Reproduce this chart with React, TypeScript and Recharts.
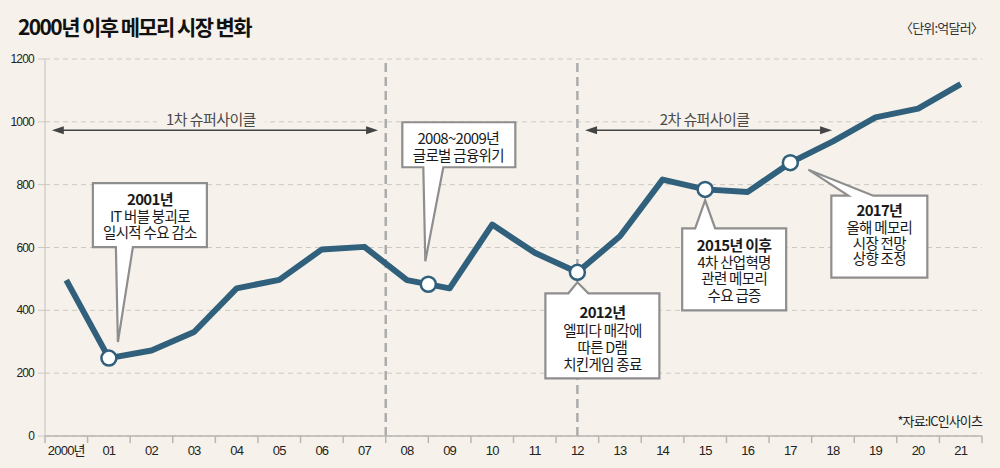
import React from "react";
import {
  CartesianGrid,
  Line,
  LineChart,
  ReferenceDot,
  ReferenceLine,
  XAxis,
  YAxis,
} from "recharts";

const YEAR_LABELS = [
  "2000년", "01", "02", "03", "04", "05", "06", "07", "08", "09", "10",
  "11", "12", "13", "14", "15", "16", "17", "18", "19", "20", "21",
];
// 억달러
const MARKET = [
  496, 248, 272, 331, 470, 497, 594, 602, 496, 470, 673,
  583, 521, 636, 816, 785, 777, 870, 938, 1014, 1042, 1120,
];
const MARKED_YEARS = [1, 12, 15, 17];
const Y_TICKS = [0, 200, 400, 600, 800, 1000, 1200];

const CYCLE_LABELS = ["1차 슈퍼사이클", "2차 슈퍼사이클"];
const CYCLE_SPANS = [
  [-0.34, 7.32],
  [12.18, 17.98],
];
const CYCLE_LEVEL = 973;

const NOTE_2001 = ["2001년", "IT 버블 붕괴로", "일시적 수요 감소"];
const NOTE_2008 = ["2008~2009년", "글로벌 금융위기"];
const NOTE_2012 = ["2012년", "엘피다 매각에", "따른 D램", "치킨게임 종료"];
const NOTE_2015 = ["2015년 이후", "4차 산업혁명", "관련 메모리", "수요 급증"];
const NOTE_2017 = ["2017년", "올해 메모리", "시장 전망", "상향 조정"];

const BG = "#f6f2eb";
const LINE = "#30607b";
const KR = "'Noto Sans CJK KR', 'Noto Sans', sans-serif";
const NUM = "'Liberation Sans', 'Noto Sans CJK KR', sans-serif";

const W = 1000;
const H = 468;
const M = { top: 59, right: 18, bottom: 0, left: 0 };
const Y_W = 45;
const X_H = 32;
const PLOT_W = W - M.left - M.right - Y_W;
const STEP = PLOT_W / YEAR_LABELS.length;

const data = YEAR_LABELS.map((label, i) => ({ i, label, v: MARKET[i] }));

function XTick(props: any) {
  const { x, y, payload, index } = props;
  const last = index === YEAR_LABELS.length - 1;
  return (
    <g>
      <line x1={x - STEP / 2} y1={y} x2={x - STEP / 2} y2={y + 7} stroke="#b8b5b0" strokeWidth={1.5} />
      {last && <line x1={x + STEP / 2} y1={y} x2={x + STEP / 2} y2={y + 7} stroke="#b8b5b0" strokeWidth={1.5} />}
      <text x={x} y={y + 19} textAnchor="middle" fontSize={13} fill="#222" fontFamily={NUM} letterSpacing={-0.8}>
        {YEAR_LABELS[payload.value]}
      </text>
    </g>
  );
}

function YTick(props: any) {
  const { x, y, payload } = props;
  return (
    <text x={x} y={y} textAnchor="end" dominantBaseline="central" fontSize={12} fill="#222" fontFamily={NUM} letterSpacing={-0.8}>
      {payload.value}
    </text>
  );
}

type Layout = {
  bx: number; by: number; bw: number; bh: number;
  side: "top" | "bottom"; p1: number; p2: number;
  tx: number; ty: number; tcx: number; rows: number[]; boldHead: boolean;
};

function callout(lines: string[], L: Layout) {
  return (props: any) => {
    const { cx, cy } = props;
    const x0 = cx + L.bx, y0 = cy + L.by;
    const x1 = x0 + L.bw, y1 = y0 + L.bh;
    const tx = cx + L.tx, ty = cy + L.ty;
    const a = cx + L.p1, b = cx + L.p2;
    const d =
      L.side === "bottom"
        ? `M${x0},${y0} L${x1},${y0} L${x1},${y1} L${b},${y1} L${tx},${ty} L${a},${y1} L${x0},${y1} Z`
        : `M${x0},${y0} L${a},${y0} L${tx},${ty} L${b},${y0} L${x1},${y0} L${x1},${y1} L${x0},${y1} Z`;
    return (
      <g>
        <path d={d} fill="#fff" stroke="#8e8e8e" strokeWidth={2.2} />
        {lines.map((t, k) => {
          const head = k === 0;
          return (
            <text
              key={k}
              x={cx + L.tcx}
              y={cy + L.rows[k]}
              textAnchor="middle"
              dominantBaseline="central"
              fontFamily={KR}
              fontSize={head ? 15 : 14.5}
              fontWeight={head && L.boldHead ? 700 : 400}
              letterSpacing={-0.7}
              fill="#1a1a1a"
            >
              {t}
            </text>
          );
        })}
      </g>
    );
  };
}

function cycleArrow(label: string) {
  return (p: any) => {
    const { x1, y1, x2 } = p;
    const mid = (x1 + x2) / 2;
    return (
      <g>
        <line x1={x1 + 4} y1={y1} x2={x2 - 4} y2={y1} stroke="#444" strokeWidth={1.5} />
        <path d={`M${x1},${y1} L${x1 + 12},${y1 - 4} L${x1 + 12},${y1 + 4} Z`} fill="#444" />
        <path d={`M${x2},${y1} L${x2 - 12},${y1 - 4} L${x2 - 12},${y1 + 4} Z`} fill="#444" />
        <rect x={mid - 58} y={y1 - 22} width={108} height={19} fill={BG} />
        <text x={mid - 4} y={y1 - 12} textAnchor="middle" dominantBaseline="central" fontFamily={KR} fontSize={15} letterSpacing={-0.6} fill="#4a4a4a">
          {label}
        </text>
      </g>
    );
  };
}

function MarkerDot(props: any) {
  const { cx, cy, index } = props;
  if (!MARKED_YEARS.includes(index)) return <g key={`d${index}`} />;
  return <circle key={`d${index}`} cx={cx} cy={cy} r={7.5} fill="#fff" stroke={LINE} strokeWidth={2.5} />;
}

export default function App() {
  const crisisValue = (MARKET[8] + MARKET[9]) / 2;
  return (
    <div style={{ position: "absolute", left: 0, top: 0, width: W, height: H, background: BG, overflow: "hidden" }}>
      <div
        style={{
          position: "absolute", left: 18, top: 12, fontFamily: KR, fontWeight: 700,
          fontSize: 21, letterSpacing: -1.6, color: "#111", lineHeight: "28px",
        }}
      >
        2000년 이후 메모리 시장 변화
      </div>
      <div
        style={{
          position: "absolute", right: 17, top: 19, fontFamily: KR, fontSize: 13,
          letterSpacing: -0.8, color: "#333", lineHeight: "17px",
        }}
      >
        〈단위:억달러〉
      </div>
      <div
        style={{
          position: "absolute", right: 18, top: 412, fontFamily: KR, fontSize: 13,
          letterSpacing: -0.9, color: "#222", lineHeight: "17px",
        }}
      >
        *자료:IC인사이츠
      </div>
      <div style={{ position: "absolute", left: 0, top: 0 }}>
        <LineChart width={W} height={H} data={data} margin={M}>
          <CartesianGrid vertical={false} stroke="#cdc9c2" strokeDasharray="5 4" />
          <XAxis
            dataKey="i"
            type="number"
            domain={[-0.5, YEAR_LABELS.length - 0.5]}
            ticks={YEAR_LABELS.map((_, i) => i)}
            interval={0}
            height={X_H}
            tickLine={false}
            tickSize={0}
            tickMargin={0}
            axisLine={{ stroke: "#b8b5b0", strokeWidth: 1.5 }}
            tick={XTick}
          />
          <YAxis
            width={Y_W}
            domain={[0, 1200]}
            ticks={Y_TICKS}
            interval={0}
            tickSize={7}
            tickMargin={4}
            tickLine={{ stroke: "#cdc9c2" }}
            axisLine={{ stroke: "#c2bfba" }}
            tick={YTick}
          />
          <ReferenceLine x={7.5} stroke="#acacac" strokeWidth={2.5} strokeDasharray="9 5" />
          <ReferenceLine x={12} stroke="#acacac" strokeWidth={2.5} strokeDasharray="9 5" />
          {CYCLE_SPANS.map(([a, b], k) => (
            <ReferenceLine
              key={`c${k}`}
              segment={[{ x: a, y: CYCLE_LEVEL }, { x: b, y: CYCLE_LEVEL }]}
              shape={cycleArrow(CYCLE_LABELS[k])}
            />
          ))}
          <ReferenceDot
            x={1}
            y={MARKET[1]}
            r={1}
            shape={callout(NOTE_2001, {
              bx: -16, by: -175, bw: 114, bh: 64, side: "bottom", p1: 7, p2: 24,
              tx: 9, ty: -16, tcx: 41, rows: [-160, -143, -127], boldHead: true,
            })}
          />
          <ReferenceDot
            x={8.5}
            y={crisisValue}
            r={1}
            shape={callout(NOTE_2008, {
              bx: -26, by: -162, bw: 113, bh: 45, side: "bottom", p1: -5, p2: 15,
              tx: -3, ty: -23, tcx: 30, rows: [-147, -130], boldHead: false,
            })}
          />
          <ReferenceDot
            x={12}
            y={MARKET[12]}
            r={1}
            shape={callout(NOTE_2012, {
              bx: -32, by: 21, bw: 114, bh: 85, side: "top", p1: -9, p2: 11,
              tx: 0, ty: 10, tcx: 25, rows: [39, 57, 74, 91], boldHead: true,
            })}
          />
          <ReferenceDot
            x={15}
            y={MARKET[15]}
            r={1}
            shape={callout(NOTE_2015, {
              bx: -23, by: 39, bw: 104, bh: 82, side: "top", p1: -10, p2: 10,
              tx: 0, ty: 11, tcx: 29, rows: [55, 72, 88, 105], boldHead: true,
            })}
          />
          <ReferenceDot
            x={17}
            y={MARKET[17]}
            r={1}
            shape={callout(NOTE_2017, {
              bx: 41, by: 33, bw: 96, bh: 82, side: "top", p1: 58, p2: 83,
              tx: 18, ty: 7, tcx: 89, rows: [47, 64, 80, 95], boldHead: true,
            })}
          />
          <Line
            dataKey="v"
            type="linear"
            stroke={LINE}
            strokeWidth={6}
            strokeLinejoin="round"
            dot={MarkerDot}
            activeDot={false}
            isAnimationActive={false}
          />
          <ReferenceDot x={8.5} y={crisisValue} r={7.5} fill="#fff" stroke={LINE} strokeWidth={2.5} />
        </LineChart>
      </div>
    </div>
  );
}
